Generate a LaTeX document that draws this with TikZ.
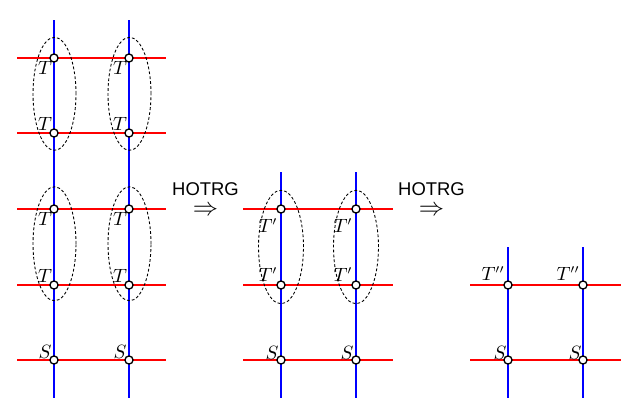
\documentclass[tikz,border=0pt]{standalone}
\usepackage{fontspec}
\newfontfamily\stepfont{Liberation Sans}
\tikzset{
  site/.style={circle, draw=black, fill=white, line width=0.75pt, inner sep=0pt, minimum size=4.6pt},
  hbond/.style={red, line width=1.2pt},
  vbond/.style={blue, line width=1.2pt},
  block/.style={draw=black, line width=0.5pt, dash pattern=on 1.6pt off 1.2pt},
  tlabel/.style={inner sep=0pt, font=\fontsize{10.5}{12}\selectfont},
  stepname/.style={inner sep=0pt, align=center, font=\fontsize{10.5}{11}\selectfont},
}
\newcommand{\stepto}{\stepfont HOTRG\\{\fontsize{14.5}{11}\selectfont$\Rightarrow$}}
\begin{document}
\begin{tikzpicture}[x=0.02cm, y=-0.02cm]
    \useasboundingbox (0,0) rectangle (637,416);
    % first lattice: five rows, two columns
    \foreach \r/\y in {1/58,2/133,3/209,4/285,5/360} {
        \coordinate (aw\r) at (17,\y);
        \coordinate (ae\r) at (166,\y);
        \draw[hbond] (aw\r) -- (ae\r);
    }
    \foreach \c/\x in {1/54,2/129} {
        \coordinate (an\c) at (\x,20);
        \coordinate (as\c) at (\x,398);
        \draw[vbond] (an\c) -- (as\c);
        \draw[block] (\x+0.5,93.8) ellipse [x radius=0.43cm, y radius=1.13cm];
        \draw[block] (\x+0.5,243.8) ellipse [x radius=0.43cm, y radius=1.14cm];
        \foreach \r/\y/\dy/\t in {1/58/10/T,2/133/-9/T,3/209/10/T,4/285/-9/T,5/360/-8/S} {
            \node[site] (a\r\c) at (\x,\y) {};
            \node[tlabel] (la\r\c) at (\x-9,\y+\dy) {$\t$};
        }
    }
    % first step
    \node[stepname, anchor=north] (h1) at (205.5,182.5) {\stepto};
    % second lattice: three rows
    \foreach \r/\y in {1/209,2/285,3/360} {
        \coordinate (bw\r) at (243,\y);
        \coordinate (be\r) at (393,\y);
        \draw[hbond] (bw\r) -- (be\r);
    }
    \foreach \c/\x in {1/281,2/356} {
        \coordinate (bn\c) at (\x,172);
        \coordinate (bs\c) at (\x,398);
        \draw[vbond] (bn\c) -- (bs\c);
        \draw[block] (\x,247) ellipse [x radius=0.45cm, y radius=1.135cm];
        \foreach \r/\y/\dy/\dx/\t in {1/209/17/-13/T',2/285/-10/-13/T',3/360/-7/-9/S} {
            \node[site] (b\r\c) at (\x,\y) {};
            \node[tlabel] (lb\r\c) at (\x+\dx,\y+\dy) {$\t$};
        }
    }
    % second step
    \node[stepname, anchor=north] (h2) at (431.5,182.5) {\stepto};
    % third lattice: two rows
    \foreach \r/\y in {1/285,2/360} {
        \coordinate (cw\r) at (470,\y);
        \coordinate (ce\r) at (621,\y);
        \draw[hbond] (cw\r) -- (ce\r);
    }
    \foreach \c/\x in {1/508,2/583} {
        \coordinate (cn\c) at (\x,247);
        \coordinate (cs\c) at (\x,398);
        \draw[vbond] (cn\c) -- (cs\c);
        \foreach \r/\y/\dy/\dx/\t in {1/285/-11/-15/T'',2/360/-7/-8/S} {
            \node[site] (c\r\c) at (\x,\y) {};
            \node[tlabel] (lc\r\c) at (\x+\dx,\y+\dy) {$\t$};
        }
    }
\end{tikzpicture}
\end{document}
